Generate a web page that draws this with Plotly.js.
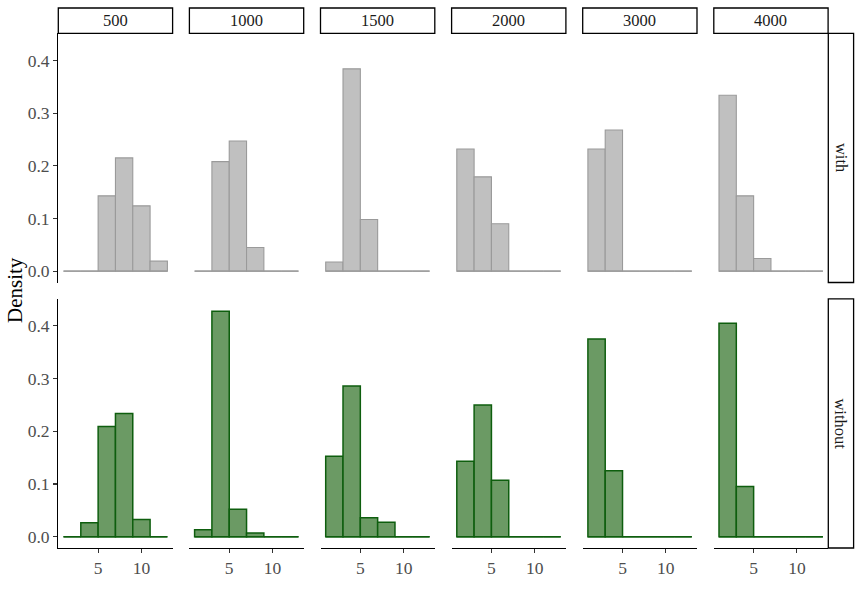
<!DOCTYPE html>
<html>
<head>
<meta charset="utf-8">
<script src="https://cdn.plot.ly/plotly-3.0.1.min.js"></script>
<style>html,body{margin:0;padding:0;background:#fff;}#chart{width:862px;height:599px;}</style>
</head>
<body>
<div id="chart"></div>
<script>
// ---- data ----
const sampleSizes = ['500', '1000', '1500', '2000', '3000', '4000'];
const conditions = ['with', 'without'];
const binCenters = [2, 4, 6, 8, 10, 12];
const binWidth = 2;
const xTicks = [5, 10];
const yTicks = [0, 0.1, 0.2, 0.3, 0.4];
const yTickLabels = ['0.0', '0.1', '0.2', '0.3', '0.4'];

// density, condition "with"
const with500  = [0, 0, 0.143, 0.215, 0.124, 0.019];
const with1000 = [0, 0.208, 0.247, 0.045, 0, 0];
const with1500 = [0.0175, 0.384, 0.098, 0, 0, 0];
const with2000 = [0.232, 0.179, 0.090, 0, 0, 0];
const with3000 = [0.232, 0.268, 0, 0, 0, 0];
const with4000 = [0.334, 0.143, 0.024, 0, 0, 0];
// density, condition "without"
const without500  = [0, 0.0265, 0.209, 0.234, 0.0325, 0];
const without1000 = [0.013, 0.428, 0.052, 0.007, 0, 0];
const without1500 = [0.1525, 0.286, 0.036, 0.0275, 0, 0];
const without2000 = [0.143, 0.250, 0.107, 0, 0, 0];
const without3000 = [0.375, 0.125, 0, 0, 0, 0];
const without4000 = [0.405, 0.095, 0, 0, 0, 0];

const withRows = [with500, with1000, with1500, with2000, with3000, with4000];
const withoutRows = [without500, without1000, without1500, without2000, without3000, without4000];

// ---- layout geometry (pixels) ----
const W = 862, H = 599;
const colLeft = [58.3, 189.4, 320.5, 451.6, 582.7, 713.8];
const colWidth = 114.3;
const rowTop = [33.3, 298.8];
const rowHeight = 249.2;
const fx = p => p / W;
const fy = p => 1 - p / H;

const styles = [
  {fill: '#C0C0C0', line: '#9A9A9A', lw: 1.1},
  {fill: '#6B9A64', line: '#0E5E0E', lw: 1.5}
];

const serif = '"Liberation Serif", "Times New Roman", serif';
const traces = [];
const layout = {
  width: W, height: H,
  margin: {l: 0, r: 0, t: 0, b: 0},
  paper_bgcolor: '#fff', plot_bgcolor: 'rgba(0,0,0,0)',
  showlegend: false, bargap: 0,
  font: {family: serif, color: '#4D4D4D', size: 17},
  shapes: [], annotations: []
};

const binEdgesMin = binCenters[0] - binWidth / 2;
const binEdgesMax = binCenters[binCenters.length - 1] + binWidth / 2;
const tickFont = {family: serif, size: 17.5, color: '#4D4D4D'};

for (let r = 0; r < 2; r++) {
  const rows = r === 0 ? withRows : withoutRows;
  const st = styles[r];
  for (let c = 0; c < 6; c++) {
    const k = r * 6 + c + 1;
    const xa = 'x' + (k === 1 ? '' : k), ya = 'y' + (k === 1 ? '' : k);
    // baseline (zero-density bins drawn as flat outline)
    traces.push({
      type: 'scatter', mode: 'lines', xaxis: xa, yaxis: ya,
      x: [binEdgesMin, binEdgesMax], y: [0, 0],
      line: {color: st.line, width: st.lw}, hoverinfo: 'skip'
    });
    traces.push({
      type: 'bar', xaxis: xa, yaxis: ya,
      x: binCenters, y: rows[c], width: binWidth,
      marker: {color: st.fill, line: {color: st.line, width: st.lw}},
      hoverinfo: 'skip'
    });
    const bottom = r === 1, left = c === 0;
    layout['xaxis' + (k === 1 ? '' : k)] = {
      anchor: ya, domain: [fx(colLeft[c]), fx(colLeft[c] + colWidth)],
      range: [0.4, 13.6], showgrid: false, zeroline: false,
      tickvals: xTicks, showticklabels: bottom,
      ticks: bottom ? 'outside' : '', ticklen: 4, tickwidth: 1.1, tickcolor: '#333',
      showline: bottom, linecolor: '#000', linewidth: 1.2,
      tickfont: tickFont, fixedrange: true
    };
    layout['yaxis' + (k === 1 ? '' : k)] = {
      anchor: xa, domain: [fy(rowTop[r] + rowHeight), fy(rowTop[r])],
      range: [-0.0215, 0.4515], showgrid: false, zeroline: false,
      tickvals: yTicks, ticktext: yTickLabels, showticklabels: left,
      ticks: left ? 'outside' : '', ticklen: 4, tickwidth: 1.1, tickcolor: '#333',
      showline: left, linecolor: '#000', linewidth: 1.2,
      tickfont: tickFont, fixedrange: true
    };
  }
}

// top strips
for (let c = 0; c < 6; c++) {
  layout.shapes.push({
    type: 'rect', xref: 'paper', yref: 'paper',
    x0: fx(colLeft[c]), x1: fx(colLeft[c] + colWidth), y0: fy(33.3), y1: fy(8),
    line: {color: '#000', width: 1.3}, fillcolor: '#fff'
  });
  layout.annotations.push({
    xref: 'paper', yref: 'paper', x: fx(colLeft[c] + colWidth / 2), y: fy(20.7),
    text: sampleSizes[c], showarrow: false, xanchor: 'center', yanchor: 'middle',
    font: {family: serif, size: 16.5, color: '#1A1A1A'}
  });
}
// right strips
for (let r = 0; r < 2; r++) {
  layout.shapes.push({
    type: 'rect', xref: 'paper', yref: 'paper',
    x0: fx(828.3), x1: fx(853.6), y0: fy(rowTop[r] + rowHeight), y1: fy(rowTop[r]),
    line: {color: '#000', width: 1.3}, fillcolor: '#fff'
  });
  layout.annotations.push({
    xref: 'paper', yref: 'paper', x: fx(841), y: fy(rowTop[r] + rowHeight / 2),
    text: conditions[r], showarrow: false, textangle: 90, xanchor: 'center', yanchor: 'middle',
    font: {family: serif, size: 16.5, color: '#1A1A1A'}
  });
}
// y title
layout.annotations.push({
  xref: 'paper', yref: 'paper', x: fx(15), y: fy(290),
  text: 'Density', showarrow: false, textangle: -90, xanchor: 'center', yanchor: 'middle',
  font: {family: serif, size: 21, color: '#000'}
});

Plotly.newPlot('chart', traces, layout, {staticPlot: true, displayModeBar: false});
</script>
</body>
</html>
